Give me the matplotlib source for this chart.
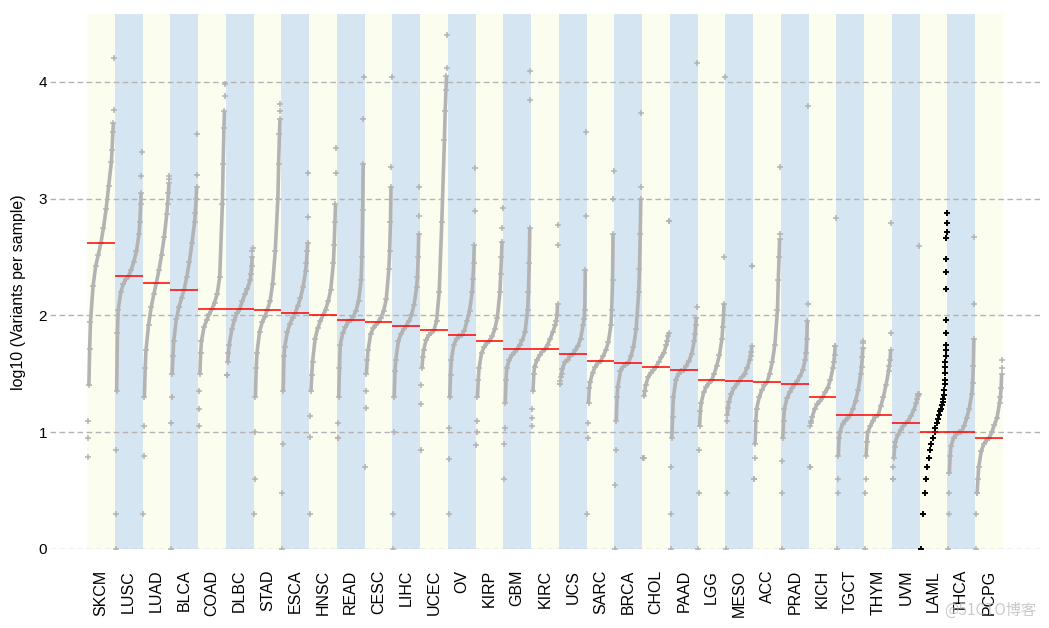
import numpy as np
import matplotlib
matplotlib.use("Agg")
import matplotlib.pyplot as plt

plt.rcParams['font.family'] = ['Liberation Sans', 'DejaVu Sans']

# cohorts, ordered by median TMB (as in the picture)
cohorts = ['SKCM', 'LUSC', 'LUAD', 'BLCA', 'COAD', 'DLBC', 'STAD', 'ESCA', 'HNSC',
           'READ', 'CESC', 'LIHC', 'UCEC', 'OV', 'KIRP', 'GBM', 'KIRC', 'UCS', 'SARC',
           'BRCA', 'CHOL', 'PAAD', 'LGG', 'MESO', 'ACC', 'PRAD', 'KICH', 'TGCT', 'THYM',
           'UVM', 'LAML', 'THCA', 'PCPG']

# median log10 variants per sample (red lines)
medians = [2.62, 2.34, 2.28, 2.22, 2.055, 2.055, 2.05, 2.02, 2.0, 1.96, 1.94, 1.91,
           1.875, 1.83, 1.78, 1.71, 1.71, 1.67, 1.61, 1.59, 1.56, 1.53, 1.445, 1.436,
           1.43, 1.41, 1.30, 1.145, 1.145, 1.077, 1.0, 1.0, 0.95]

quantiles = [0, 0.01, 0.02, 0.04, 0.07, 0.1, 0.2, 0.3, 0.4, 0.5, 0.6, 0.7, 0.8, 0.9,
             0.93, 0.96, 0.98, 0.99, 1.0]

SKCM = [0.79, 0.95, 1.1, 1.4, 1.71, 1.94, 2.25, 2.42, 2.52, 2.62, 2.75, 2.91, 3.11, 3.31, 3.42, 3.57, 3.65, 3.76, 4.2]
LUSC = [0.0, 0.3, 0.85, 1.35, 1.85, 2.05, 2.2, 2.27, 2.31, 2.34, 2.39, 2.46, 2.55, 2.7, 2.8, 2.95, 3.05, 3.19, 3.4]
LUAD = [0.3, 0.8, 1.05, 1.3, 1.55, 1.7, 1.92, 2.07, 2.18, 2.28, 2.39, 2.52, 2.67, 2.87, 2.95, 3.05, 3.13, 3.17, 3.19]
BLCA = [0.0, 1.08, 1.3, 1.5, 1.65, 1.78, 1.97, 2.07, 2.15, 2.22, 2.33, 2.46, 2.62, 2.8, 2.88, 3.0, 3.1, 3.2, 3.55]
COAD = [1.05, 1.2, 1.35, 1.5, 1.68, 1.78, 1.9, 1.96, 2.01, 2.055, 2.11, 2.18, 2.33, 2.95, 3.3, 3.6, 3.75, 3.88, 3.98]
DLBC = [1.49, 1.49, 1.49, 1.6, 1.68, 1.75, 1.88, 1.96, 2.02, 2.055, 2.12, 2.18, 2.23, 2.3, 2.35, 2.42, 2.5, 2.55, 2.58]
STAD = [0.3, 0.6, 1.0, 1.3, 1.55, 1.68, 1.86, 1.94, 1.99, 2.05, 2.12, 2.27, 2.55, 3.0, 3.3, 3.55, 3.68, 3.75, 3.81]
ESCA = [0.0, 0.48, 0.9, 1.35, 1.65, 1.73, 1.86, 1.93, 1.98, 2.02, 2.08, 2.15, 2.24, 2.38, 2.45, 2.55, 2.62, 2.84, 3.22]
HNSC = [0.3, 0.96, 1.14, 1.35, 1.49, 1.6, 1.8, 1.89, 1.95, 2.0, 2.05, 2.12, 2.22, 2.45, 2.6, 2.8, 2.95, 3.22, 3.43]
READ = [0.95, 0.95, 1.08, 1.3, 1.55, 1.75, 1.85, 1.9, 1.94, 1.96, 1.99, 2.04, 2.12, 2.3, 2.5, 2.9, 3.3, 3.68, 4.04]
CESC = [0.7, 1.21, 1.35, 1.5, 1.62, 1.7, 1.84, 1.89, 1.92, 1.94, 1.98, 2.04, 2.14, 2.4, 2.55, 2.8, 3.1, 3.27, 4.04]
LIHC = [0.0, 0.3, 1.0, 1.3, 1.52, 1.62, 1.78, 1.84, 1.88, 1.91, 1.95, 2.0, 2.09, 2.24, 2.33, 2.5, 2.7, 2.85, 3.1]
UCEC = [0.85, 1.24, 1.4, 1.55, 1.64, 1.7, 1.79, 1.83, 1.85, 1.875, 1.95, 2.2, 2.8, 3.5, 3.75, 3.93, 4.05, 4.12, 4.4]
OV = [0.3, 0.77, 1.04, 1.3, 1.49, 1.62, 1.75, 1.8, 1.82, 1.83, 1.87, 1.95, 2.04, 2.2, 2.31, 2.45, 2.6, 2.89, 3.26]
KIRP = [0.89, 1.0, 1.1, 1.3, 1.45, 1.55, 1.68, 1.73, 1.76, 1.78, 1.82, 1.88, 1.98, 2.2, 2.35, 2.5, 2.63, 2.75, 2.92]
GBM = [0.6, 0.9, 1.04, 1.25, 1.45, 1.55, 1.62, 1.66, 1.69, 1.71, 1.75, 1.79, 1.86, 2.05, 2.2, 2.45, 2.75, 3.84, 4.09]
KIRC = [1.05, 1.12, 1.2, 1.35, 1.5, 1.56, 1.62, 1.66, 1.69, 1.71, 1.75, 1.8, 1.86, 1.92, 1.95, 2.0, 2.1, 2.6, 2.77]
UCS = [1.41, 1.41, 1.44, 1.47, 1.5, 1.54, 1.6, 1.62, 1.65, 1.67, 1.7, 1.74, 1.8, 1.92, 1.97, 2.05, 2.39, 2.85, 3.57]
SARC = [0.3, 0.95, 1.08, 1.25, 1.38, 1.43, 1.51, 1.56, 1.59, 1.61, 1.65, 1.7, 1.77, 1.92, 2.05, 2.3, 2.7, 3.0, 3.24]
BRCA = [0.0, 0.55, 0.85, 1.1, 1.3, 1.39, 1.52, 1.56, 1.58, 1.59, 1.65, 1.73, 1.88, 2.2, 2.4, 2.7, 3.0, 3.1, 3.73]
CHOL = [0.78, 0.78, 0.78, 1.31, 1.35, 1.4, 1.47, 1.51, 1.53, 1.56, 1.6, 1.64, 1.68, 1.75, 1.78, 1.82, 1.85, 2.81, 2.81]
PAAD = [0.0, 0.3, 0.7, 0.95, 1.13, 1.3, 1.45, 1.5, 1.52, 1.53, 1.57, 1.61, 1.67, 1.78, 1.84, 1.92, 1.98, 2.07, 4.16]
LGG = [0.0, 0.48, 0.85, 1.05, 1.18, 1.25, 1.34, 1.39, 1.42, 1.445, 1.5, 1.57, 1.66, 1.8, 1.9, 2.0, 2.1, 2.5, 4.04]
MESO = [0.0, 0.48, 1.1, 1.15, 1.21, 1.26, 1.33, 1.38, 1.41, 1.436, 1.47, 1.5, 1.55, 1.62, 1.65, 1.69, 1.74, 2.42, 2.42]
ACC = [0.6, 0.6, 0.78, 0.9, 1.1, 1.2, 1.3, 1.36, 1.4, 1.43, 1.5, 1.6, 1.75, 2.05, 2.3, 2.5, 2.65, 2.7, 3.27]
PRAD = [0.0, 0.48, 0.75, 0.95, 1.1, 1.2, 1.29, 1.34, 1.38, 1.41, 1.44, 1.48, 1.53, 1.62, 1.68, 1.8, 1.95, 2.1, 3.79]
KICH = [0.7, 0.7, 1.05, 1.08, 1.1, 1.13, 1.2, 1.24, 1.27, 1.3, 1.34, 1.38, 1.45, 1.55, 1.6, 1.66, 1.74, 1.74, 2.83]
TGCT = [0.0, 0.48, 0.6, 0.8, 0.95, 1.0, 1.07, 1.1, 1.125, 1.145, 1.2, 1.27, 1.36, 1.5, 1.56, 1.64, 1.72, 1.76, 1.78]
THYM = [0.0, 0.48, 0.6, 0.8, 0.92, 1.0, 1.05, 1.1, 1.13, 1.145, 1.22, 1.3, 1.4, 1.52, 1.57, 1.62, 1.7, 1.85, 2.79]
UVM = [0.6, 0.6, 0.7, 0.78, 0.87, 0.92, 0.98, 1.02, 1.05, 1.077, 1.1, 1.14, 1.19, 1.25, 1.28, 1.31, 1.33, 1.33, 2.59]
THCA = [0.0, 0.3, 0.48, 0.65, 0.8, 0.88, 0.95, 0.98, 1.0, 1.0, 1.05, 1.12, 1.2, 1.33, 1.42, 1.57, 1.8, 2.1, 2.67]
PCPG = [0.0, 0.3, 0.48, 0.48, 0.6, 0.7, 0.84, 0.9, 0.93, 0.95, 1.0, 1.06, 1.12, 1.25, 1.3, 1.38, 1.5, 1.55, 1.62]

# the input cohort (black points), read point by point
laml_rank = [0.03, 0.10, 0.17, 0.21, 0.26, 0.32, 0.36, 0.40, 0.47, 0.54, 0.57, 0.62, 0.67,
             0.71, 0.75, 0.79, 0.82, 0.85, 0.87, 0.89, 0.91, 0.92, 0.93, 0.94, 0.95, 0.955,
             0.96, 0.965, 0.97, 0.975, 0.98, 0.983, 0.986, 0.99, 0.993, 0.995, 0.997, 1.0]
LAML = [0.0, 0.30, 0.48, 0.60, 0.70, 0.78, 0.85, 0.90, 0.95, 1.00, 1.04, 1.08, 1.11,
        1.15, 1.18, 1.20, 1.23, 1.26, 1.28, 1.32, 1.36, 1.41, 1.45, 1.51, 1.56, 1.60,
        1.65, 1.70, 1.75, 1.85, 1.96, 2.23, 2.37, 2.48, 2.66, 2.71, 2.79, 2.88]

values = [SKCM, LUSC, LUAD, BLCA, COAD, DLBC, STAD, ESCA, HNSC, READ, CESC, LIHC, UCEC,
          OV, KIRP, GBM, KIRC, UCS, SARC, BRCA, CHOL, PAAD, LGG, MESO, ACC, PRAD, KICH,
          TGCT, THYM, UVM, LAML, THCA, PCPG]

bg_cols = ['#FBFEEF', '#D5E5F1']
pt_col = '#B3B3B3'

fig = plt.figure(figsize=(10.49, 6.28), dpi=100)
ax = fig.add_axes([50 / 1049, 79 / 628, 990 / 1049, 535 / 628])
ax.set_xlim(-1.333, 34.333)
ax.set_ylim(0, 4.58)

for i in range(len(cohorts)):
    ax.axvspan(i, i + 1, color=bg_cols[i % 2], lw=0, zorder=0)

for y in range(5):
    ax.axhline(y, color='#B3B3B3', lw=1, ls=(0, (4, 2.5)), zorder=1)

for i, (name, vals) in enumerate(zip(cohorts, values)):
    if name == 'LAML':
        x = i + 0.03 + 0.94 * np.array(laml_rank)
        ax.plot(x, vals, '+', color='black', ms=4, mew=1.4, zorder=3)
    else:
        x = i + 0.03 + 0.94 * np.array(quantiles)
        ax.plot(x[3:17], vals[3:17], color=pt_col, lw=2.6, zorder=2,
                solid_capstyle='butt')
        ax.plot(x, vals, '+', color=pt_col, ms=3.8, mew=1.1, zorder=2)
    ax.hlines(medians[i], i, i + 1, color='red', lw=1.1, zorder=4)

ax.set_xticks(np.arange(len(cohorts)) + 0.5)
ax.set_xticklabels(cohorts, rotation=90, fontsize=11.5)
ax.tick_params(axis='x', length=0, pad=15)
ax.set_yticks([0, 1, 2, 3, 4])
ax.tick_params(axis='y', length=0, pad=2, labelsize=11)
for s in ax.spines.values():
    s.set_visible(False)

fig.text(18.5 / 1049, 1 - 292 / 628, 'log10 (Variants per sample)', rotation=90,
         ha='center', va='center', fontsize=11.5)

fig.text(990 / 1049, 1 - 610 / 628, '@51CTO博客', color='#BDBDBD', fontsize=11,
         ha='center', va='center', alpha=0.8,
         family=['Noto Sans CJK SC', 'DejaVu Sans'])

fig.savefig('out.png', dpi=100)
